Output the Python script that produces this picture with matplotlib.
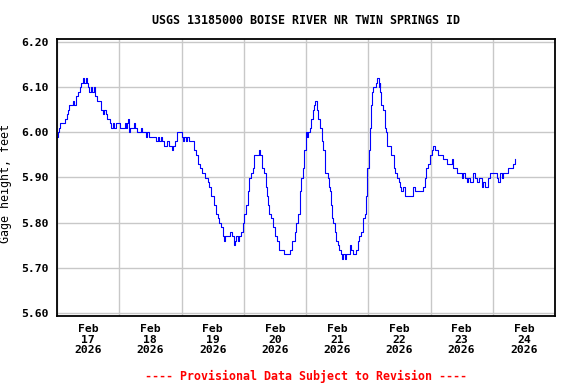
import datetime as dt
import matplotlib
matplotlib.use("Agg")
import matplotlib.pyplot as plt
import matplotlib.dates as mdates
from matplotlib.ticker import MultipleLocator, FormatStrFormatter

# gage height readings, hours after 2026-02-17 00:00
hours = [0, 0.25, 0.65, 1.3, 2.6, 3.0, 3.9, 4.3, 4.8, 5.8, 6.2, 6.7, 7.4, 8.1, 8.8, 9.4,
         10.1, 10.4, 11.0, 11.6, 12.0, 12.5, 13.0, 13.5, 14.1, 14.6, 15.1, 15.6, 16.6,
         17.0, 17.7, 18.3, 18.8, 19.4, 20.0, 20.4, 21.0, 21.5, 22.1, 22.6, 23.6, 24.1,
         25.4, 26.1, 26.6, 27.1, 27.5, 27.9, 28.3, 29.3, 29.7, 30.2, 30.7, 32.0, 32.4,
         32.9, 33.7, 34.2, 34.8, 35.5, 37.8, 38.3, 38.8, 39.3, 40.0, 40.6, 41.3, 42.6,
         43.0, 44.2, 44.5, 44.9, 45.5, 46.1, 46.4, 47.5, 48.0, 48.6, 49.0, 49.7, 50.3,
         51.0, 52.2, 52.9, 53.5, 54.1, 54.3, 55.1, 55.9, 56.4, 56.9, 57.7, 58.1, 58.7,
         59.3, 60.2, 60.6, 61.3, 61.9, 62.6, 63.2, 63.9, 64.5, 64.9, 66.2, 66.7, 67.5,
         68.1, 68.6, 69.0, 69.7, 70.3, 71.0, 71.6, 72.2, 72.9, 73.5, 74.2, 74.8, 75.5,
         76.1, 77.4, 77.8, 78.3, 79.0, 79.7, 80.4, 80.9, 81.5, 81.9, 82.6, 83.2, 84.1,
         84.8, 85.5, 87.1, 87.7, 89.4, 89.9, 90.7, 91.6, 92.2, 92.9, 93.5, 93.8, 94.1,
         94.7, 95.4, 96.0, 96.4, 96.9, 97.5, 97.9, 98.6, 99.2, 99.6, 100.1, 100.8, 101.4,
         102.2, 102.7, 103.4, 104.0, 104.6, 105.0, 105.4, 105.7, 106.1, 106.6, 107.0,
         107.6, 108.3, 108.9, 109.5, 109.9, 110.4, 111.0, 111.5, 112.1, 112.8, 113.4,
         114.1, 114.7, 115.4, 116.0, 116.6, 117.3, 117.9, 118.6, 119.0, 119.2, 119.6,
         120.1, 120.5, 120.9, 121.4, 121.8, 122.4, 122.8, 123.2, 123.7, 124.1, 124.4,
         124.6, 125.0, 125.7, 126.3, 127.0, 127.3, 128.3, 128.9, 129.5, 129.9, 130.4,
         131.1, 131.7, 132.1, 132.8, 133.4, 134.1, 136.6, 137.3, 137.9, 140.5, 141.2,
         141.8, 142.2, 143.1, 143.7, 144.4, 145.0, 145.7, 146.3, 147.0, 148.2, 148.9,
         149.8, 150.2, 151.7, 152.1, 152.5, 152.8, 153.8, 154.1, 155.6, 156.0, 156.6,
         157.3, 157.9, 158.6, 159.2, 159.9, 160.5, 161.1, 162.0, 162.8, 163.7, 164.4,
         165.0, 165.7, 166.3, 167.0, 168.9, 169.5, 170.2, 170.8, 171.5, 172.1, 173.4,
         174.0, 175.3, 175.7, 176.4, 176.6]
gage_ft = [5.99, 6.00, 6.01, 6.02, 6.02, 6.03, 6.04, 6.05, 6.06, 6.06, 6.07, 6.06, 6.08,
           6.09, 6.10, 6.11, 6.12, 6.11, 6.12, 6.11, 6.10, 6.09, 6.10, 6.09, 6.10, 6.08,
           6.08, 6.07, 6.07, 6.05, 6.04, 6.05, 6.04, 6.03, 6.03, 6.02, 6.01, 6.02, 6.01,
           6.02, 6.02, 6.01, 6.01, 6.02, 6.01, 6.02, 6.03, 6.00, 6.01, 6.01, 6.02, 6.01,
           6.00, 6.00, 6.01, 6.00, 6.00, 5.99, 6.00, 5.99, 5.99, 5.98, 5.99, 5.98, 5.99,
           5.98, 5.97, 5.98, 5.97, 5.97, 5.96, 5.97, 5.98, 5.99, 6.00, 6.00, 5.99, 5.98,
           5.99, 5.98, 5.99, 5.98, 5.98, 5.96, 5.95, 5.95, 5.93, 5.92, 5.91, 5.91, 5.90,
           5.90, 5.89, 5.88, 5.86, 5.86, 5.84, 5.82, 5.81, 5.80, 5.79, 5.77, 5.76, 5.77,
           5.77, 5.78, 5.77, 5.75, 5.76, 5.77, 5.76, 5.77, 5.78, 5.80, 5.82, 5.84, 5.87,
           5.90, 5.91, 5.92, 5.95, 5.95, 5.96, 5.95, 5.92, 5.91, 5.88, 5.86, 5.84, 5.82,
           5.81, 5.79, 5.77, 5.76, 5.74, 5.74, 5.73, 5.73, 5.74, 5.76, 5.78, 5.80, 5.82,
           5.84, 5.87, 5.90, 5.92, 5.96, 6.00, 5.99, 6.00, 6.01, 6.03, 6.05, 6.06,
           6.07, 6.05, 6.03, 6.01, 5.98, 5.96, 5.91, 5.91, 5.90, 5.88, 5.87, 5.84, 5.81,
           5.80, 5.78, 5.76, 5.75, 5.74, 5.73, 5.72, 5.73, 5.72, 5.73, 5.73, 5.75, 5.74,
           5.73, 5.73, 5.74, 5.76, 5.77, 5.78, 5.81, 5.82, 5.84, 5.86, 5.92, 5.96, 6.01,
           6.06, 6.09, 6.10, 6.10, 6.11, 6.12, 6.12, 6.10, 6.11, 6.09, 6.06, 6.05, 6.01,
           6.00, 5.97, 5.97, 5.95, 5.95, 5.92, 5.91, 5.90, 5.89, 5.88, 5.87, 5.88, 5.86,
           5.86, 5.88, 5.87, 5.87, 5.88, 5.90, 5.92, 5.93, 5.95, 5.96, 5.97, 5.96, 5.96,
           5.95, 5.95, 5.94, 5.94, 5.93, 5.93, 5.94, 5.93, 5.92, 5.92, 5.91, 5.91, 5.90,
           5.91, 5.90, 5.89, 5.90, 5.89, 5.89, 5.91, 5.90, 5.89, 5.90, 5.88, 5.89, 5.88,
           5.88, 5.90, 5.91, 5.91, 5.90, 5.89, 5.91, 5.90, 5.91, 5.91, 5.92, 5.92, 5.93,
           5.94, 5.94]

start = dt.datetime(2026, 2, 17)
end = dt.datetime(2026, 2, 25)
times = [start + dt.timedelta(hours=h) for h in hours]

title = "USGS 13185000 BOISE RIVER NR TWIN SPRINGS ID"
ylabel = "Gage height, feet"
footer = "---- Provisional Data Subject to Revision ----"

plt.rcParams['font.family'] = ['DejaVu Sans Mono']
plt.rcParams['font.weight'] = 'bold'

fig = plt.figure(figsize=(5.76, 3.84), dpi=100)
ax = fig.add_axes([57 / 576, 68 / 384, 498 / 576, 277 / 384])

ax.plot(times, gage_ft, color='#0000ff', lw=0.8, drawstyle='steps-post')

ax.set_xlim(start, end)
ax.set_ylim(5.5934, 6.2066)
ax.yaxis.set_major_locator(MultipleLocator(0.1))
ax.yaxis.set_major_formatter(FormatStrFormatter('%.2f'))

ax.xaxis.set_major_locator(mdates.HourLocator(byhour=[12]))
ax.xaxis.set_major_formatter(mdates.DateFormatter('%b\n%d\n%Y'))
ax.xaxis.set_minor_locator(mdates.DayLocator())

ax.grid(True, which='minor', axis='x', color='#c8c8c8', lw=1)
ax.grid(True, which='major', axis='y', color='#c8c8c8', lw=1)
ax.set_axisbelow(True)

ax.tick_params(axis='both', which='both', length=0, labelsize=8.2)
ax.tick_params(axis='y', pad=6)
ax.tick_params(axis='x', pad=6)
for lab in ax.get_xticklabels():
    lab.set_linespacing(1.05)

for s in ax.spines.values():
    s.set_linewidth(1.3)
    s.set_color('black')

ax.set_ylabel(ylabel, fontsize=8.4)
ax.yaxis.set_label_coords(-0.09, 0.48)
fig.text(306 / 576, 1 - 20 / 384, title, ha='center', va='center', fontsize=8.4)
fig.text(306 / 576, 1 - 376 / 384, footer, ha='center', va='center', fontsize=8.4,
         color='red')

fig.savefig('out.png', dpi=100)
